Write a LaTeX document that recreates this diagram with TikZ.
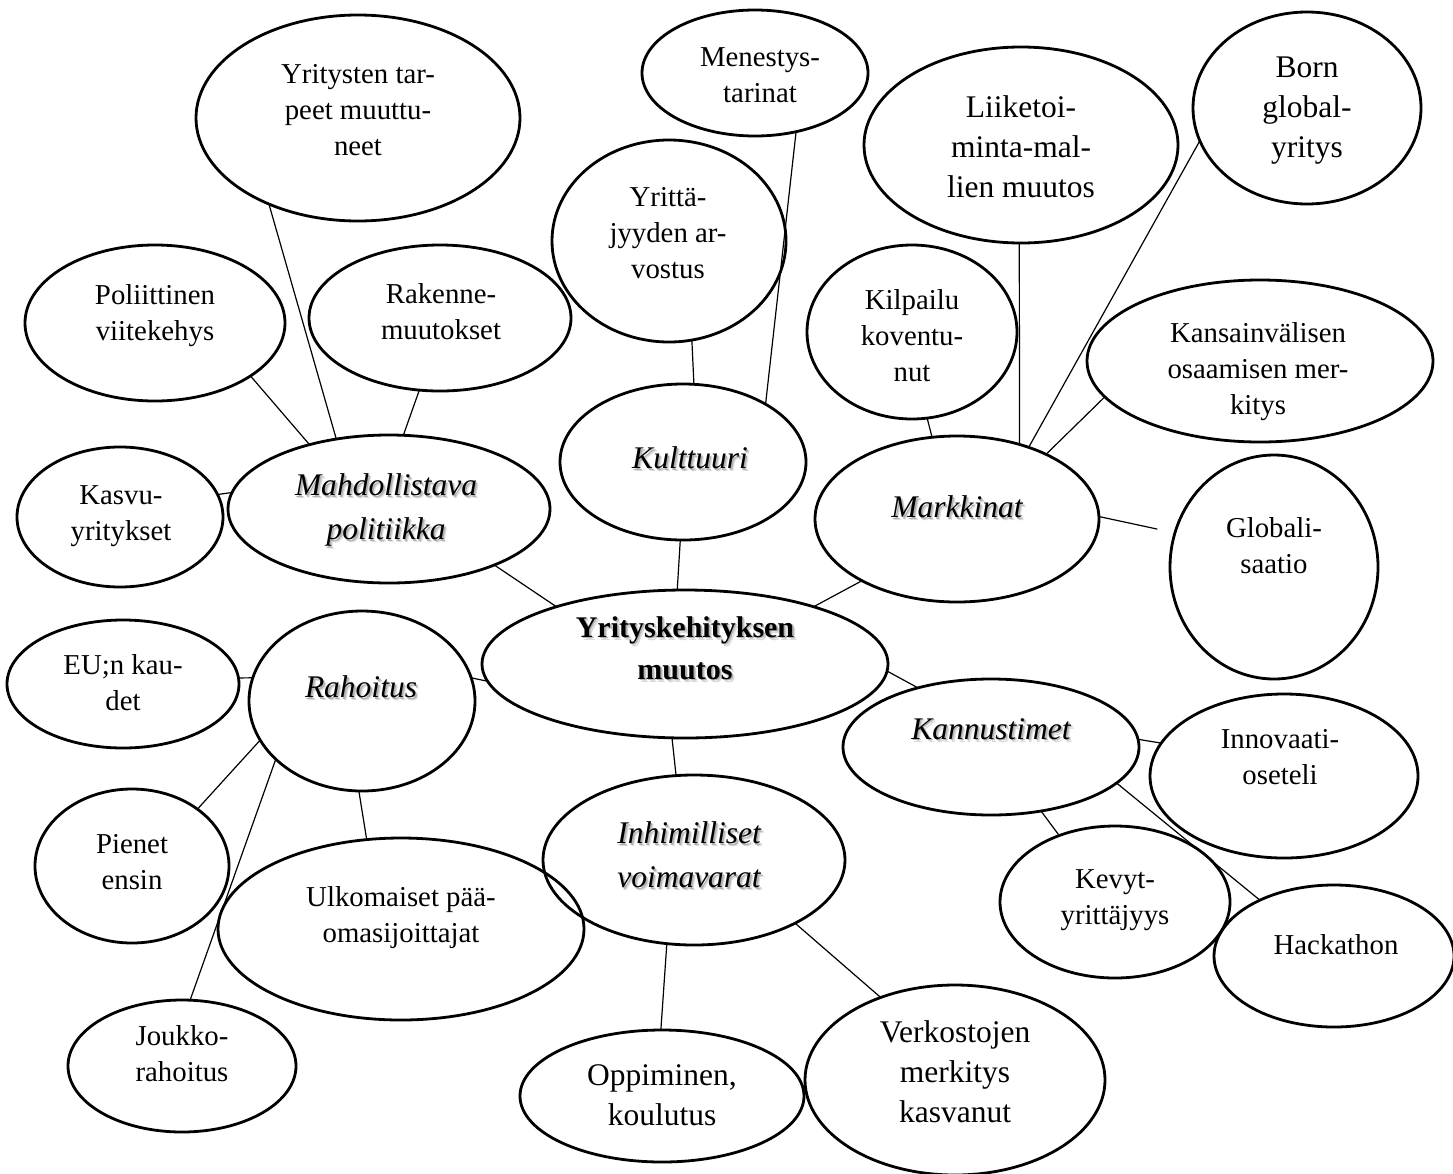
\documentclass[tikz,border=0pt]{standalone}
\usepackage{fontspec}
\setmainfont{Liberation Serif}
\usetikzlibrary{shapes.geometric}
\tikzset{
  oval/.style={draw, ellipse, line width=2.8pt, inner sep=0pt, outer sep=0pt},
  rtext/.style={align=center, inner sep=0pt, font=\fontsize{28.8}{36}\selectfont},
  ltext/.style={align=center, inner sep=0pt, font=\fontsize{31.5}{40}\selectfont},
  itext/.style={align=center, inner sep=0pt, font=\fontsize{31.5}{44}\selectfont\itshape},
  btext/.style={align=center, inner sep=0pt, font=\fontsize{30}{42}\selectfont\bfseries},
  link/.style={line width=1.2pt},
}
% shadowed label: #1 style, #2 name, #3 position, #4 text
\newcommand\shlabel[4]{%
  \node[#1, text=black!14] at ([shift={(2.8,2.8)}]#3) {#4};
  \node[#1, text=black!30] at ([shift={(1.6,1.6)}]#3) {#4};
  \node[#1] (#2) at (#3) {#4};}
\begin{document}
\begin{tikzpicture}[x=1pt,y=-1pt]
\useasboundingbox (0,0) rectangle (1453,1173);

% ellipses
\node[oval, minimum width=324pt, minimum height=206pt] (yt)  at (358,118)  {};
\node[oval, minimum width=226pt, minimum height=126pt] (men) at (755,73)   {};
\node[oval, minimum width=314pt, minimum height=196pt] (lm)  at (1021,145) {};
\node[oval, minimum width=228pt, minimum height=192pt] (bg)  at (1307,108) {};
\node[oval, minimum width=234pt, minimum height=202pt] (ya)  at (669,241)  {};
\node[oval, minimum width=260pt, minimum height=156pt] (pv)  at (155,323)  {};
\node[oval, minimum width=262pt, minimum height=146pt] (rm)  at (440,318)  {};
\node[oval, minimum width=210pt, minimum height=174pt] (kp)  at (912,332)  {};
\node[oval, minimum width=346pt, minimum height=162pt] (kv)  at (1260,361) {};
\node[oval, minimum width=246pt, minimum height=156pt] (ku)  at (683,462)  {};
\node[oval, minimum width=322pt, minimum height=148pt] (md)  at (389,509)  {};
\node[oval, minimum width=206pt, minimum height=140pt] (ks)  at (120,517)  {};
\node[oval, minimum width=284pt, minimum height=166pt] (mk)  at (957,519)  {};
\node[oval, minimum width=208pt, minimum height=224pt] (gl)  at (1274,567) {};
\node[oval, minimum width=406pt, minimum height=148pt] (ce)  at (685,664)  {};
\node[oval, minimum width=232pt, minimum height=128pt] (eu)  at (123,684)  {};
\node[oval, minimum width=226pt, minimum height=180pt] (ra)  at (362,701)  {};
\node[oval, minimum width=296pt, minimum height=136pt] (ka)  at (991,747)  {};
\node[oval, minimum width=268pt, minimum height=164pt] (in)  at (1284,776) {};
\node[oval, minimum width=194pt, minimum height=154pt] (pe)  at (132,866)  {};
\node[oval, minimum width=366pt, minimum height=182pt] (ul)  at (401,929)  {};
\node[oval, minimum width=302pt, minimum height=170pt] (ih)  at (694,860)  {};
\node[oval, minimum width=230pt, minimum height=152pt] (kvy) at (1115,902) {};
\node[oval, minimum width=240pt, minimum height=142pt] (ha)  at (1334,956) {};
\node[oval, minimum width=228pt, minimum height=132pt] (jr)  at (182,1066) {};
\node[oval, minimum width=284pt, minimum height=132pt] (op)  at (662,1096) {};
\node[oval, minimum width=300pt, minimum height=190pt] (vk)  at (955,1080) {};

% texts
\node[rtext] (ytT)  at (358,110)  {Yritysten tar-\\peet muuttu-\\neet};
\node[rtext] (menT) at (760,75)   {Menestys-\\tarinat};
\node[ltext] (lmT)  at (1021,147) {Liiketoi-\\minta-mal-\\lien muutos};
\node[ltext] (bgT)  at (1307,111) {Born\\global-\\yritys};
\node[rtext] (yaT)  at (668,233)  {Yrittä-\\jyyden ar-\\vostus};
\node[rtext] (pvT)  at (155,316)  {Poliittinen\\viitekehys};
\node[rtext] (rmT)  at (441,312)  {Rakenne-\\muutokset};
\node[rtext] (kpT)  at (912,336)  {Kilpailu\\koventu-\\nut};
\node[rtext] (kvT)  at (1258,372) {Kansainvälisen\\osaamisen mer-\\kitys};
\node[rtext] (ksT)  at (121,516)  {Kasvu-\\yritykset};
\node[rtext] (glT)  at (1274,546) {Globali-\\saatio};
\node[rtext] (euT)  at (123,683)  {EU;n kau-\\det};
\node[rtext] (inT)  at (1280,757) {Innovaati-\\oseteli};
\node[rtext] (peT)  at (132,862)  {Pienet\\ensin};
\node[rtext] (ulT)  at (401,918)  {Ulkomaiset pää-\\omasijoittajat};
\node[rtext] (kvyT) at (1115,900) {Kevyt-\\yrittäjyys};
\node[rtext] (haT)  at (1336,945) {Hackathon};
\node[rtext] (jrT)  at (182,1054) {Joukko-\\rahoitus};
\node[ltext] (opT)  at (662,1095) {Oppiminen,\\koulutus};
\node[ltext] (vkT)  at (955,1072) {Verkostojen\\merkitys\\kasvanut};

\shlabel{itext}{mdT}{386,510}{Mahdollistava\\politiikka}
\shlabel{itext}{kuT}{690,458}{Kulttuuri}
\shlabel{itext}{mkT}{957,507}{Markkinat}
\shlabel{itext}{raT}{361,687}{Rahoitus}
\shlabel{itext}{kaT}{991,729}{Kannustimet}
\shlabel{itext}{ihT}{689,855}{Inhimilliset\\voimavarat}
\shlabel{btext}{ceT}{685,648}{Yrityskehityksen\\muutos}

% connectors
\draw[link] (yt.224) -- (md.127);
\draw[link] (pv.331) -- (md.141);
\draw[link] (rm.254) -- (md.79);
\draw[link] (ks.13) -- (md.174);
\draw[link] (md.332) -- (ce.156);
\draw[link] (ya.283) -- (ku.82);
\draw[link] (men.305) -- (ku.35);
\draw[link] (ku.268) -- (ce.96);
\draw[link] (kp.280) -- (mk.107);
\draw[link] (lm.269) -- (mk.50);
\draw[link] (bg.197) -- (mk.45);
\draw[link] (kv.193) -- (mk.36);
\draw[link, shorten >=18pt] (mk.1) -- (gl.161);
\draw[link] (mk.213) -- (ce.24);
\draw[link] (ce.358) -- (ka.141);
\draw[link] (ka.3) -- (in.165);
\draw[link] (ka.308) -- (kvy.130);
\draw[link] (ka.344) -- (ha.143);
\draw[link] (ce.260) -- (ih.102);
\draw[link] (ih.252) -- (op.91);
\draw[link] (ih.328) -- (vk.132);
\draw[link] (ra.12) -- (ce.185);
\draw[link] (eu.3) -- (ra.168);
\draw[link] (ra.201) -- (pe.41);
\draw[link] (ra.214) -- (jr.83);
\draw[link] (ra.268) -- (ul.111);
\end{tikzpicture}
\end{document}
